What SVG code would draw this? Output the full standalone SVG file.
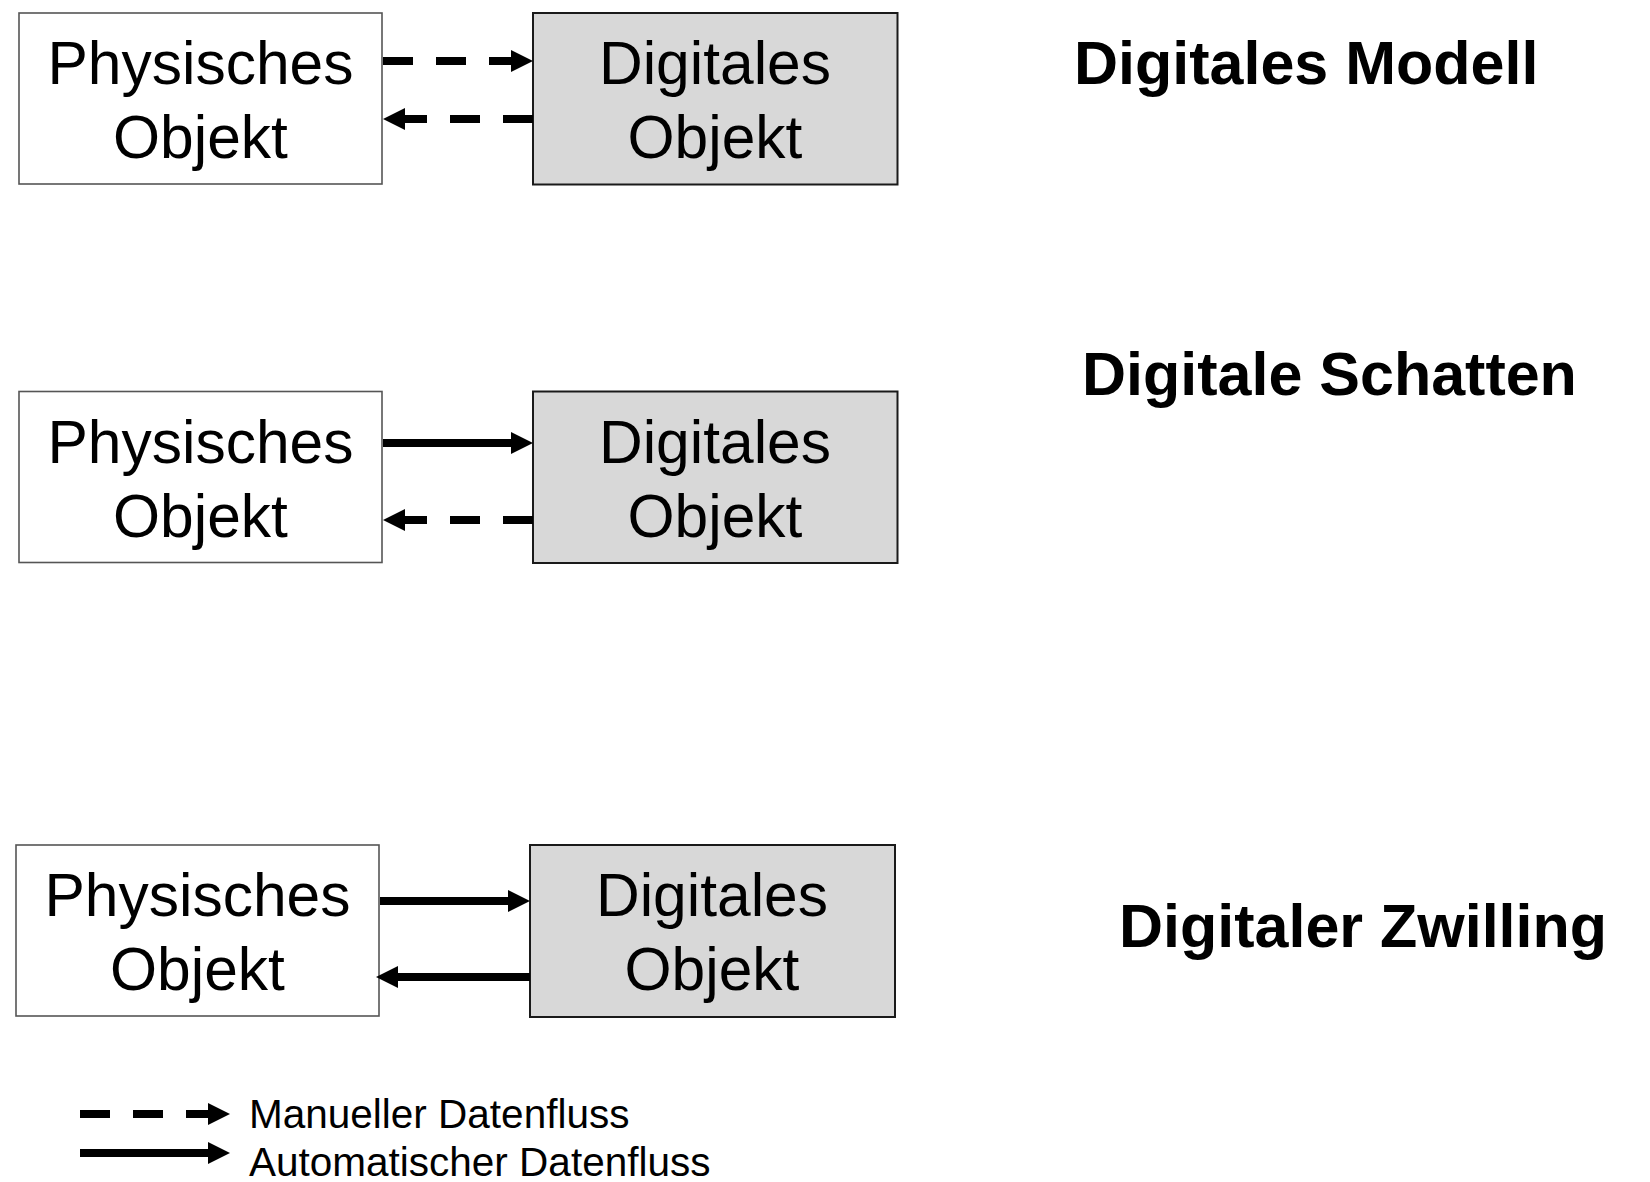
<svg xmlns="http://www.w3.org/2000/svg" width="1650" height="1182" viewBox="0 0 1650 1182">
<style>
.phys{fill:#ffffff;stroke:#555555;stroke-width:1.6}
.dig{fill:#d8d8d8;stroke:#1a1a1a;stroke-width:2}
.lbl{font-family:"Liberation Sans",Arial,sans-serif;font-size:60.5px;fill:#000;text-anchor:middle}
.title{font-family:"Liberation Sans",Arial,sans-serif;font-size:61px;font-weight:bold;fill:#000}
.leg{font-family:"Liberation Sans",Arial,sans-serif;font-size:40.5px;fill:#000}
.flow{stroke:#000;stroke-width:8;fill:none}
.man{stroke-dasharray:30 23}
.auto{marker-end:url(#head)}
</style>
<defs>
<marker id="head" markerUnits="userSpaceOnUse" markerWidth="22" markerHeight="24" refX="0" refY="12" orient="auto">
<path d="M0,1 L22,12 L0,23 Z" fill="#000"/>
</marker>
</defs>
<rect width="1650" height="1182" fill="#ffffff"/>

<g id="row1-physisch">
<rect class="phys" x="19" y="13" width="363" height="171"/>
<text class="lbl" x="200.5" y="84">Physisches</text>
<text class="lbl" x="200.5" y="158">Objekt</text>
</g>
<g id="row1-digital">
<rect class="dig" x="533" y="13" width="364.5" height="171.5"/>
<text class="lbl" x="715" y="84">Digitales</text>
<text class="lbl" x="715" y="158">Objekt</text>
</g>
<g id="row2-physisch">
<rect class="phys" x="19" y="391.5" width="363" height="171"/>
<text class="lbl" x="200.5" y="462.5">Physisches</text>
<text class="lbl" x="200.5" y="536.5">Objekt</text>
</g>
<g id="row2-digital">
<rect class="dig" x="533" y="391.5" width="364.5" height="171.5"/>
<text class="lbl" x="715" y="462.5">Digitales</text>
<text class="lbl" x="715" y="536.5">Objekt</text>
</g>
<g id="row3-physisch">
<rect class="phys" x="16" y="845" width="363" height="171"/>
<text class="lbl" x="197.5" y="916">Physisches</text>
<text class="lbl" x="197.5" y="990">Objekt</text>
</g>
<g id="row3-digital">
<rect class="dig" x="530" y="845" width="365" height="172"/>
<text class="lbl" x="712" y="916">Digitales</text>
<text class="lbl" x="712" y="990">Objekt</text>
</g>

<g id="titles">
<text class="title" x="1074" y="84">Digitales Modell</text>
<text class="title" x="1082" y="395">Digitale Schatten</text>
<text class="title" x="1119" y="947">Digitaler Zwilling</text>
</g>

<g id="connectors">
<line class="flow man auto" x1="383" y1="61" x2="511" y2="61"/>
<line class="flow man auto" x1="533" y1="119" x2="405" y2="119"/>
<line class="flow auto" x1="383" y1="443" x2="511" y2="443"/>
<line class="flow man auto" x1="533" y1="520" x2="405" y2="520"/>
<line class="flow auto" x1="380" y1="901" x2="508" y2="901"/>
<line class="flow auto" x1="530" y1="977" x2="398" y2="977"/>
</g>

<g id="legend">
<line class="flow man auto" x1="80" y1="1114" x2="208" y2="1114"/>
<line class="flow auto" x1="80" y1="1153" x2="208" y2="1153"/>
<text class="leg" x="249" y="1128">Manueller Datenfluss</text>
<text class="leg" x="249" y="1176">Automatischer Datenfluss</text>
</g>
</svg>
